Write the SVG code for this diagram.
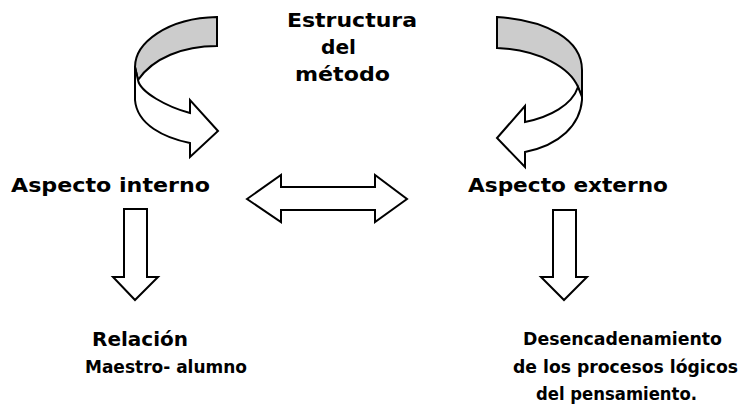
<svg xmlns="http://www.w3.org/2000/svg" width="743" height="404" viewBox="0 0 743 404">
<style>
.t{font-family:"DejaVu Sans","Verdana",sans-serif;font-weight:bold;font-size:20px;fill:#000}
.b{font-size:18.5px}
.c{font-size:17.5px}
.s{stroke:#000;stroke-width:2;stroke-linejoin:miter;fill:#fff}
.g{stroke:#000;stroke-width:2;fill:#cccccc}
</style>
<rect width="743" height="404" fill="#fff"/>
<g id="connectors">
<g id="curved-left">
<path class="g" d="M217,17 C167,18 135,43 135,67 L138,80 C153,58 183,46 217,46 Z"/>
<path class="s" d="M135,67 L135,100 C137,125 165,138 190,143 L190,157 L218,131 L190,100 L190,113 C167,107 140,92 138,80 Z"/>
</g>
<g id="curved-right">
<path class="g" d="M497,17 C547,20 582,40 582,70 L582,97 L578,87 C570,68 540,50 497,48 Z"/>
<path class="s" d="M578,87 L582,97 L582,100 C580,125 560,145 525,152 L525,167 L497,138 L525,106 L525,122 C550,117 572,105 578,87 Z"/>
</g>
<path id="double-arrow" class="s" d="M247,199 L281,175 L281,187 L375,187 L375,175 L407,199 L375,222 L375,210 L281,210 L281,222 Z"/>
<path id="down-left" class="s" d="M124,209 L147,209 L147,277 L158,277 L135,300 L113,277 L124,277 Z"/>
<path id="down-right" class="s" d="M553,210 L576,210 L576,277 L587,277 L564,300 L541,277 L553,277 Z"/>
</g>
<g id="title">
<text class="t" x="287" y="27" textLength="130" lengthAdjust="spacingAndGlyphs">Estructura</text>
<text class="t" x="321" y="54" textLength="35" lengthAdjust="spacingAndGlyphs">del</text>
<text class="t" x="295" y="81" textLength="95" lengthAdjust="spacingAndGlyphs">método</text>
</g>
<g id="aspecto-interno">
<text class="t" x="11" y="192" textLength="199" lengthAdjust="spacingAndGlyphs">Aspecto interno</text>
</g>
<g id="aspecto-externo">
<text class="t" x="468" y="192" textLength="200" lengthAdjust="spacingAndGlyphs">Aspecto externo</text>
</g>
<g id="relacion">
<text class="t" x="92" y="346" textLength="96" lengthAdjust="spacingAndGlyphs">Relación</text>
<text class="t b" x="85" y="373" textLength="162" lengthAdjust="spacingAndGlyphs">Maestro- alumno</text>
</g>
<g id="desencadenamiento">
<text class="t b" x="523" y="345" textLength="199" lengthAdjust="spacingAndGlyphs">Desencadenamiento</text>
<text class="t c" x="513" y="373" textLength="225" lengthAdjust="spacingAndGlyphs">de los procesos lógicos</text>
<text class="t b" x="536" y="400" textLength="161" lengthAdjust="spacingAndGlyphs">del pensamiento.</text>
</g>
</svg>
